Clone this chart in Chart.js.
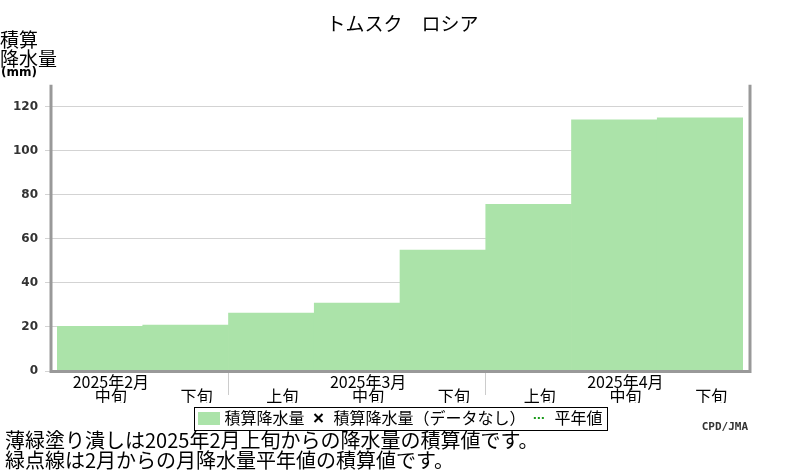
<!DOCTYPE html>
<html>
<head>
<meta charset="utf-8">
<script src="https://cdn.jsdelivr.net/npm/chart.js@4"></script>
<style>
  body { margin: 0; background: #fff; }
</style>
</head>
<body>
<canvas id="chart" width="800" height="470"></canvas>
<script>
const periods = ['中旬', '下旬', '上旬', '中旬', '下旬', '上旬', '中旬', '下旬'];
const monthLabels = ['2025年2月', '', '', '2025年3月', '', '', '2025年4月', ''];
const cumulative = [20.3, 20.9, 26.3, 30.9, 54.9, 75.7, 114.1, 115.0];
const noData = [];
const normals = [];
const yTicks = [0, 20, 40, 60, 80, 100, 120];

const jp = '"Noto Sans CJK JP", "Noto Sans", sans-serif';

// green swatch for the legend
const swatch = document.createElement('canvas');
swatch.width = 22;
swatch.height = 13;
const sctx = swatch.getContext('2d');
sctx.fillStyle = '#abe3a9';
sctx.fillRect(0, 0, 22, 13);

const frame = {
    id: 'frame',
    afterDatasetsDraw(chart) {
        const {ctx, chartArea: a} = chart;
        ctx.save();
        ctx.strokeStyle = '#999';
        ctx.lineWidth = 3;
        ctx.beginPath();
        ctx.moveTo(a.left - 6, a.top);
        ctx.lineTo(a.left - 6, a.bottom + 0.5);
        ctx.lineTo(a.right + 7, a.bottom + 0.5);
        ctx.lineTo(a.right + 7, a.top);
        ctx.stroke();
        ctx.restore();
    },
    afterDraw(chart) {
        const ctx = chart.ctx;
        ctx.save();
        // y axis title
        ctx.fillStyle = '#000';
        ctx.textBaseline = 'middle';
        ctx.font = '19px ' + jp;
        ctx.fillText('積算', 0, 40);
        ctx.fillText('降水量', 0, 58.5);
        ctx.font = 'bold 12px "DejaVu Sans"';
        ctx.fillText('(mm)', 1, 73);
        // credit
        ctx.fillStyle = '#333';
        ctx.textAlign = 'right';
        ctx.font = 'bold 11px "DejaVu Sans Mono"';
        ctx.fillText('CPD/JMA', 748, 427);
        // legend border
        const boxes = chart.legend.legendHitBoxes;
        if (boxes && boxes.length) {
            const first = boxes[0], last = boxes[boxes.length - 1];
            const x0 = Math.round(first.left - 8) + 0.5;
            const x1 = Math.round(last.left + last.width + 4) + 0.5;
            const y0 = Math.round(first.top - 3) + 0.5;
            const y1 = Math.round(first.top + first.height + 4) + 0.5;
            ctx.strokeStyle = '#000';
            ctx.lineWidth = 1;
            ctx.strokeRect(x0, y0, x1 - x0, y1 - y0);
        }
        ctx.restore();
    }
};

new Chart(document.getElementById('chart'), {
    type: 'bar',
    data: {
        labels: periods.map((p, i) => [monthLabels[i], p]),
        datasets: [{
            label: '積算降水量',
            data: cumulative,
            backgroundColor: '#abe3a9',
            borderWidth: 0,
            categoryPercentage: 1,
            barPercentage: 1
        }, {
            type: 'scatter',
            label: '積算降水量（データなし）',
            data: noData,
            pointStyle: 'crossRot',
            borderColor: '#000'
        }, {
            type: 'line',
            label: '平年値',
            data: normals,
            borderColor: '#1a9a1a',
            borderDash: [2, 2],
            borderWidth: 2
        }]
    },
    options: {
        responsive: false,
        devicePixelRatio: 1,
        animation: false,
        layout: {padding: {left: 5, right: 0, top: 0, bottom: 0}},
        scales: {
            x: {
                afterFit: (s) => { s.height = 32; },
                grid: {
                    offset: true,
                    drawOnChartArea: false,
                    tickLength: 24,
                    color: (c) => (c.index === periods.length || periods[c.index] === '上旬') ? '#cccccc' : 'rgba(0,0,0,0)'
                },
                border: {display: false},
                ticks: {
                    autoSkip: false,
                    maxRotation: 0,
                    padding: -20,
                    labelOffset: 11,
                    color: '#000',
                    font: {family: jp, size: 16, lineHeight: '14px'}
                }
            },
            y: {
                min: 0,
                max: 130,
                afterBuildTicks: (s) => { s.ticks = yTicks.map(v => ({value: v})); },
                afterFit: (s) => { s.width = 52; },
                grid: {color: '#d3d3d3', tickLength: 12},
                border: {display: false},
                ticks: {
                    padding: 7,
                    color: '#333',
                    font: {family: '"DejaVu Sans"', size: 12, weight: 'bold'}
                }
            },
            y2: {
                position: 'right',
                grid: {display: false},
                border: {display: false},
                ticks: {display: false},
                afterFit: (s) => { s.width = 57; }
            }
        },
        plugins: {
            title: {
                display: true,
                text: 'トムスク　ロシア',
                color: '#000',
                font: {family: jp, size: 19, weight: 'normal', lineHeight: 1.2},
                padding: {top: 12, bottom: 50}
            },
            subtitle: {
                display: true,
                position: 'bottom',
                align: 'start',
                text: ['薄緑塗り潰しは2025年2月上旬からの降水量の積算値です。', '緑点線は2月からの月降水量平年値の積算値です。'],
                color: '#000',
                font: {family: jp, size: 20, weight: 'normal', lineHeight: 1.0},
                padding: {top: -6, bottom: 0}
            },
            legend: {
                position: 'bottom',
                labels: {
                    usePointStyle: true,
                    boxWidth: 14,
                    boxHeight: 8,
                    padding: 7,
                    color: '#000',
                    font: {family: jp, size: 16},
                    generateLabels: (chart) => chart.data.datasets.map((ds, i) => ({
                        text: ds.label,
                        datasetIndex: i,
                        pointStyle: i === 0 ? swatch : ds.pointStyle || 'line',
                        fillStyle: 'rgba(0,0,0,0)',
                        strokeStyle: ds.borderColor,
                        lineWidth: 2,
                        lineDash: ds.borderDash || [],
                        hidden: false
                    }))
                }
            },
            tooltip: {enabled: false}
        }
    },
    plugins: [frame]
});
</script>
</body>
</html>
